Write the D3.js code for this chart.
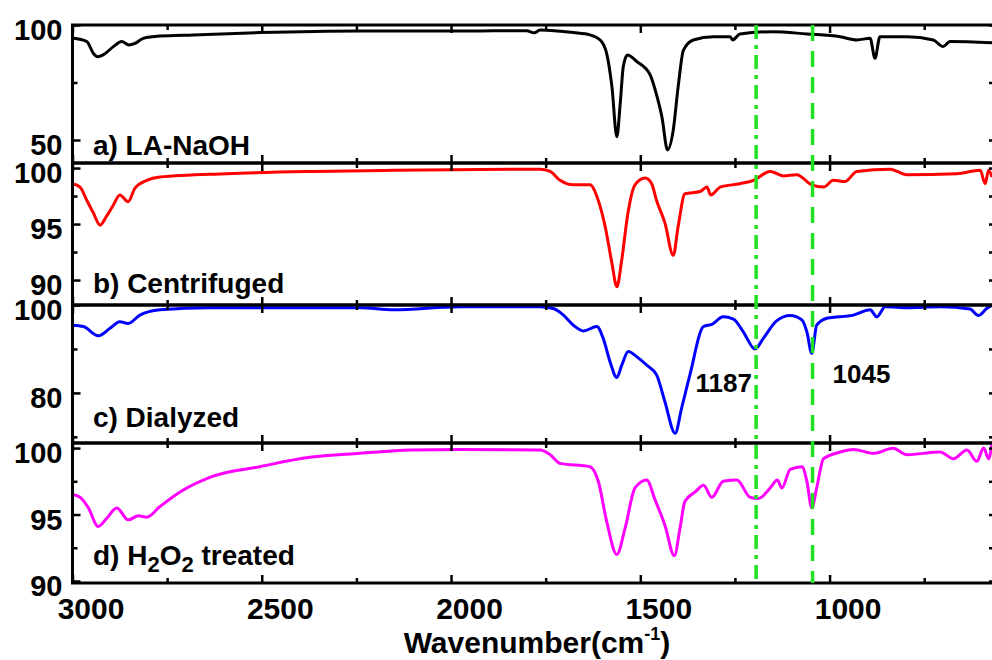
<html>
<script src='https://d3js.org/d3.v7.min.js'></script>
<style>
body {margin:0; background:white;}
text {font-family: 'Liberation Sans', Arial, sans-serif; font-weight: bold; fill: black;}
.frame {fill: none; stroke: black; stroke-width: 3;}
.tick line {stroke: black; stroke-width: 2.5;}
</style>
<body onload='init()'>
<svg width=992 height=660></svg>
<script>
// spectra: [wavenumber, transmittance %]
var laNaoh = [[3000,94.3],[2962,92.8],[2945,87.7],[2934,86.2],[2919,87.0],[2892,90.6],[2870,92.8],[2851,91.3],[2835,92.0],
  [2813,94.2],[2769,95.2],[2681,95.7],[2505,96.7],[2240,97.4],[1976,97.4],[1800,97.5],[1780,96.6],[1765,97.8],[1677,96.7],
  [1633,95.7],[1606,93.5],[1589,87.7],[1575,73.2],[1562,51.4],[1553,66.0],[1545,81.9],[1534,87.0],[1509,84.1],[1474,78.3],
  [1457,69.6],[1443,60.1],[1428,45.7],[1413,54.3],[1400,73.2],[1386,89.1],[1360,93.5],[1307,94.9],[1263,94.9],[1256,93.5],
  [1237,96.1],[1149,97.1],[1060,96.1],[972,94.9],[928,93.5],[893,94.2],[880,85.5],[867,94.9],[796,94.9],[726,93.5],
  [700,90.6],[682,92.8],[571,92.3]];
var centrifuged = [[3000,98.6],[2980,98.3],[2962,97.1],[2945,96.0],[2927,94.9],[2910,95.7],[2892,96.7],[2875,97.6],[2853,97.0],
  [2835,98.2],[2804,98.9],[2769,99.2],[2593,99.5],[2364,99.7],[2152,99.8],[1765,99.9],[1738,99.7],[1712,98.9],[1677,98.5],
  [1633,98.5],[1611,97.1],[1593,94.8],[1575,91.5],[1562,89.4],[1549,91.8],[1534,95.7],[1514,98.5],[1487,99.1],[1470,98.6],
  [1457,97.1],[1435,95.1],[1413,92.2],[1400,94.8],[1382,97.7],[1342,97.9],[1324,98.3],[1314,97.6],[1289,98.3],[1237,98.6],
  [1201,98.9],[1157,99.7],[1122,99.3],[1087,99.4],[1047,98.5],[1016,98.3],[990,98.9],[959,98.8],[928,99.7],[840,99.9],
  [796,99.4],[664,99.5],[602,99.8],[589,98.6],[580,99.8],[571,99.2]];
var dialyzed = [[3000,95.4],[2971,95.1],[2932,93.0],[2901,94.7],[2875,96.2],[2853,95.8],[2822,97.7],[2769,98.9],[2637,99.4],
  [2240,99.4],[2152,98.9],[1976,99.6],[1765,99.6],[1730,99.2],[1703,97.7],[1677,95.4],[1650,94.1],[1615,95.1],[1598,92.4],
  [1580,87.1],[1562,83.5],[1549,86.3],[1532,89.4],[1509,88.2],[1483,86.3],[1457,84.1],[1435,78.0],[1408,70.8],[1391,76.5],
  [1369,84.1],[1333,95.1],[1311,95.6],[1281,97.3],[1254,96.8],[1228,93.9],[1197,90.0],[1175,92.4],[1140,96.4],[1104,97.6],
  [1073,96.6],[1060,93.9],[1047,89.0],[1034,95.4],[1007,97.0],[937,97.7],[893,98.9],[875,97.3],[853,99.6],[796,99.4],
  [708,99.6],[629,99.1],[607,97.6],[585,99.2],[571,99.9]];
var h2o2 = [[3000,96.5],[2980,96.3],[2958,95.5],[2932,94.1],[2910,94.7],[2883,95.5],[2853,94.6],[2826,94.9],[2804,94.8],
  [2769,95.6],[2716,96.7],[2637,97.8],[2505,98.6],[2373,99.3],[2240,99.6],[2108,99.85],[1976,99.9],[1765,99.85],[1738,99.5],
  [1712,98.85],[1633,98.6],[1611,97.5],[1589,94.5],[1562,92.0],[1540,94.0],[1514,97.0],[1483,97.6],[1461,96.1],[1435,94.2],
  [1410,91.9],[1395,94.0],[1382,96.0],[1355,96.7],[1333,97.2],[1311,96.3],[1281,97.5],[1245,97.6],[1210,96.3],[1188,96.2],
  [1157,97.0],[1138,97.6],[1126,97.0],[1104,98.4],[1073,98.6],[1060,97.5],[1047,95.5],[1034,97.0],[1016,99.2],[972,99.7],
  [937,99.9],[884,99.6],[832,99.98],[796,99.5],[708,99.7],[673,99.2],[637,99.85],[611,99.0],[593,100.0],[580,99.2],[571,100.3]];

var seriesNames = ['a) LA-NaOH', 'b) Centrifuged', 'c) Dialyzed', 'd) H2O2 treated'];
var yDomains = [[40,100],[87.77,100.45],[68.6,100],[89.85,100.38]];
var yMajor = [[100,50],[100,95,90],[100,80],[100,95,90]];
var yMinor = [[75],[97.5,92.5],[90,70],[97.5,92.5]];
var labelY = [43.5, 88.84, 72.2, 91.2];
var xDomain = [3000, 563];
var xMajor = [3000,2500,2000,1500,1000];
var xMinor = [2750,2250,1750,1250,750];
var markers = [1194, 1045];
var peakLabels = [['1187',1205,80.2,'end'],['1045',992,82.2,'start']];

function init() {
  var svg = d3.select('svg');
  var colors = ['black','red','blue','magenta'];
  var widths = [3,3,3,3];
  var tops = [25,163,305,443], bottoms = [163,305,443,583];
  var data = [laNaoh, centrifuged, dialyzed, h2o2];
  var x = d3.scaleLinear(xDomain, [72.5, 995]);

  var ys = [];
  data.forEach(function(d, i) {
    var y = d3.scaleLinear(yDomains[i], [bottoms[i], tops[i]]);
    ys.push(y);
    var g = svg.append('g');

    g.append('path').datum(d)
      .attr('fill','none').attr('stroke',colors[i]).attr('stroke-width',widths[i])
      .attr('stroke-linejoin','round')
      .attr('d', d3.line().x(function(p){return x(p[0]);}).y(function(p){return y(p[1]);}).curve(d3.curveMonotoneX));

    // x ticks inward on both edges of every panel
    [[d3.axisBottom, bottoms[i]], [d3.axisTop, tops[i]]].forEach(function(a) {
      var ax = g.append('g').attr('transform','translate(0,'+a[1]+')')
        .call(a[0](x).tickValues(xMajor).tickSize(-8).tickFormat(''));
      ax.select('.domain').remove();
      var mx = g.append('g').attr('transform','translate(0,'+a[1]+')')
        .call(a[0](x).tickValues(xMinor).tickSize(-5).tickFormat(''));
      mx.select('.domain').remove();
    });

    var yl = g.append('g').attr('transform','translate(72.5,0)')
      .call(d3.axisLeft(y).tickValues(yMajor[i]).tickSize(-8).tickPadding(10).tickFormat(d3.format('d')));
    yl.select('.domain').remove();
    yl.selectAll('text').style('font-size','29px').attr('dy','0.5em');
    g.append('g').attr('transform','translate(72.5,0)')
      .call(d3.axisLeft(y).tickValues(yMinor[i]).tickSize(-5).tickFormat(''))
      .select('.domain').remove();
    g.append('g').attr('transform','translate(995,0)')
      .call(d3.axisRight(y).tickValues(yMajor[i].concat(yMinor[i])).tickSize(-6).tickFormat(''))
      .select('.domain').remove();

    g.append('rect').attr('class','frame')
      .attr('x',72.5).attr('y',tops[i]).attr('width',995-72.5).attr('height',bottoms[i]-tops[i]);

    var t = g.append('text').attr('x', x(2946)).attr('y', y(labelY[i])).style('font-size','28px');
    if (i === 3) {
      t.append('tspan').text('d) H');
      t.append('tspan').text('2').attr('dy',7).style('font-size','22px');
      t.append('tspan').text('O').attr('dy',-7);
      t.append('tspan').text('2').attr('dy',7).style('font-size','22px');
      t.append('tspan').text(' treated').attr('dy',-7);
    } else {
      t.text(seriesNames[i]);
    }
  });

  // x labels on the bottom panel
  var xl = svg.append('g').attr('transform','translate(0,583)')
    .call(d3.axisBottom(x).tickValues(xMajor).tickSize(0).tickPadding(15).tickFormat(d3.format('d')));
  xl.select('.domain').remove();
  xl.selectAll('text').style('font-size','30px').attr('dx',18);

  var title = svg.append('text').attr('x',537).attr('y',653).attr('text-anchor','middle').style('font-size','30px');
  title.append('tspan').text('Wavenumber(cm');
  title.append('tspan').text('-1').attr('dy',-13).style('font-size','18px');
  title.append('tspan').text(')').attr('dy',13);

  // marker lines
  var dashes = ['14,6,4,6', '16,10'];
  markers.forEach(function(m, i) {
    svg.append('line').attr('x1',x(m)).attr('x2',x(m)).attr('y1',25).attr('y2',583)
      .attr('stroke','#22e022').attr('stroke-width',3.5).attr('stroke-dasharray',dashes[i]);
  });

  peakLabels.forEach(function(p) {
    svg.append('text').attr('x',x(p[1])).attr('y',ys[2](p[2]))
      .attr('text-anchor',p[3]).style('font-size','26px').text(p[0]);
  });
}
</script>
</body>
</html>
